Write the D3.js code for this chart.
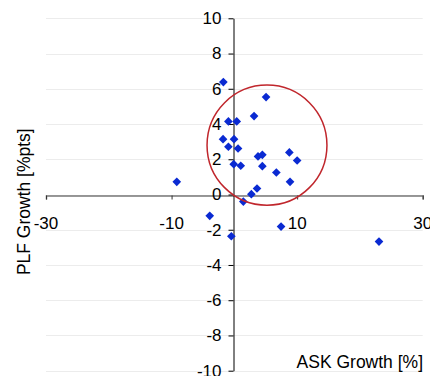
<!DOCTYPE html>
<html lang="en">
<head>
  <meta charset="UTF-8">
  <title>PLF vs ASK Growth</title>
  <script src="https://d3js.org/d3.v7.min.js"></script>
  <style>
    body {
      margin: 0;
      background: white;
      font-family: "Liberation Sans", Arial, sans-serif;
    }
    .tick-label {
      font-size: 17px;
      fill: black;
    }
    .title {
      font-size: 17.5px;
      fill: black;
    }
  </style>
</head>
<body>
  <div id="chart"></div>

  <script>
    // data: ASK growth [%] vs PLF growth [%pts]
    const askGrowth = [-1.75, 5.05, -0.95, 0.38, 3.14, -1.8, -0.05, -0.95, 0.59, -0.1, 1.02, 3.77, 4.46,
                       4.46, 8.76, 10.0, 6.69, 8.87, 3.61, 2.71, 1.43, -9.17, -3.92, -0.48, 7.44, 23.04];
    const plfGrowth = [6.38, 5.53, 4.15, 4.15, 4.45, 3.14, 3.14, 2.71, 2.61, 1.72, 1.63, 2.16, 2.25,
                       1.61, 2.39, 1.93, 1.25, 0.72, 0.34, 0.02, -0.40, 0.72, -1.21, -2.37, -1.82, -2.67];
    const xTicks = [-30, -10, 10, 30];
    const yTicks = [-10, -8, -6, -4, -2, 0, 2, 4, 6, 8, 10];
    // highlighted cluster (ellipse in data units)
    const cluster = { cx: 5.2, cy: 2.8, rx: 9.55, ry: 3.41 };

    const width = 430, height = 376;
    const svg = d3.select("#chart")
      .append("svg")
      .attr("width", width)
      .attr("height", height);

    const x = d3.scaleLinear().domain([-30, 30]).range([46, 422.7]);
    const y = d3.scaleLinear().domain([-10, 10]).range([370.7, 18.3]);

    // horizontal gridlines
    svg.append("g")
      .selectAll("line")
      .data(yTicks)
      .join("line")
      .attr("x1", x(-30))
      .attr("x2", x(30))
      .attr("y1", d => Math.round(y(d)) + 0.5)
      .attr("y2", d => Math.round(y(d)) + 0.5)
      .attr("stroke", "#ececec")
      .attr("stroke-width", 1);

    // x axis (crosses at y = 0)
    const xAxis = svg.append("g")
      .attr("transform", `translate(0,${Math.round(y(0)) + 0.5})`)
      .call(d3.axisBottom(x).tickValues(xTicks).tickSize(4).tickFormat(""));
    xAxis.select(".domain").attr("stroke", "#777").attr("stroke-width", 1.5);
    xAxis.selectAll(".tick line").attr("stroke", "#333");

    svg.append("g")
      .selectAll("text")
      .data(xTicks)
      .join("text")
      .attr("class", "tick-label")
      .attr("x", d => x(d))
      .attr("y", y(0) + 34)
      .attr("text-anchor", "middle")
      .text(d => String(d));

    // y axis (crosses at x = 0)
    const yAxis = svg.append("g")
      .attr("transform", `translate(${Math.round(x(0)) - 0.5},0)`)
      .call(d3.axisLeft(y).tickValues(yTicks).tickSize(5).tickPadding(7).tickSizeOuter(0)
        .tickFormat(d => String(d)));
    yAxis.select(".domain").attr("stroke", "black");
    yAxis.selectAll(".tick line").attr("stroke", "black");
    yAxis.selectAll(".tick text")
      .attr("class", "tick-label")
      .style("font-family", "'Liberation Sans', Arial, sans-serif")
      .style("font-size", "17px")
      .attr("fill", "black");

    // points
    const points = askGrowth.map((a, i) => ({ ask: a, plf: plfGrowth[i] }));
    svg.append("g")
      .selectAll("path")
      .data(points)
      .join("path")
      .attr("d", d3.symbol().type(d3.symbolDiamond2).size(48))
      .attr("transform", d => `translate(${x(d.ask)},${y(d.plf)})`)
      .attr("fill", "#0a2ad2");

    // ellipse around the cluster
    svg.append("ellipse")
      .attr("cx", x(cluster.cx))
      .attr("cy", y(cluster.cy))
      .attr("rx", x(cluster.rx) - x(0))
      .attr("ry", y(0) - y(cluster.ry))
      .attr("fill", "none")
      .attr("stroke", "#c0262c")
      .attr("stroke-width", 1.5);

    // axis titles
    svg.append("text")
      .attr("class", "title")
      .attr("x", 423)
      .attr("y", 368)
      .attr("text-anchor", "end")
      .text("ASK Growth [%]");

    svg.append("text")
      .attr("class", "title")
      .attr("transform", `translate(30,${201.7}) rotate(-90)`)
      .attr("text-anchor", "middle")
      .text("PLF Growth [%pts]");
  </script>
</body>
</html>
